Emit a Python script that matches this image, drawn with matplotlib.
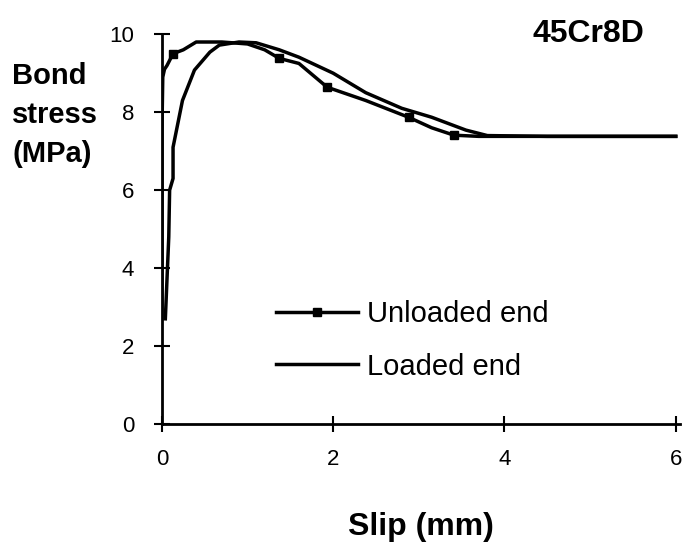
import matplotlib.pyplot as plt

plt.rcParams['font.family'] = ['Liberation Sans', 'DejaVu Sans']

# unloaded end (with square markers)
unl_x = [0.0, 0.0, 0.01, 0.03, 0.06, 0.13, 0.25, 0.4, 0.7, 1.0, 1.2, 1.37, 1.6, 1.93, 2.38, 2.88, 3.15, 3.41, 3.7, 4.2, 5.0, 6.0]
unl_y = [2.7, 7.5, 8.9, 9.1, 9.2, 9.5, 9.6, 9.8, 9.8, 9.75, 9.6, 9.38, 9.25, 8.64, 8.3, 7.87, 7.6, 7.41, 7.38, 7.38, 7.38, 7.38]
unl_marks = [5, 11, 13, 15, 17]

# loaded end
lod_x = [0.04, 0.08, 0.09, 0.13, 0.13, 0.24, 0.38, 0.56, 0.67, 0.9, 1.1, 1.37, 1.6, 2.0, 2.38, 2.8, 3.15, 3.55, 3.8, 4.5, 6.0]
lod_y = [2.7, 4.8, 6.0, 6.3, 7.1, 8.3, 9.08, 9.54, 9.72, 9.8, 9.78, 9.6, 9.41, 9.0, 8.5, 8.1, 7.87, 7.54, 7.4, 7.38, 7.38]

fig = plt.figure(figsize=(6.89, 5.43), dpi=100)
ax = fig.add_axes([0.235, 0.219, 0.752, 0.718])

ax.plot(unl_x, unl_y, color='black', lw=2.5, marker='s', ms=6, markevery=unl_marks,
        label='Unloaded end')
ax.plot(lod_x, lod_y, color='black', lw=2.5, label='Loaded end')

ax.set_xlim(0, 6.05)
ax.set_ylim(0, 10)
ax.set_xticks([0, 2, 4, 6])
ax.set_yticks([0, 2, 4, 6, 8, 10])
ax.spines['top'].set_visible(False)
ax.spines['right'].set_visible(False)
ax.spines['left'].set_linewidth(2)
ax.spines['bottom'].set_linewidth(2)
ax.tick_params(direction='inout', length=12, width=1.5, labelsize=16)
ax.tick_params(axis='x', pad=12)
ax.tick_params(axis='y', pad=14)

ax.set_xlabel('Slip (mm)', fontsize=23, fontweight='bold', labelpad=30)
fig.text(0.018, 0.885, 'Bond\nstress\n(MPa)', fontsize=21, fontweight='bold',
         va='top', ha='left', linespacing=1.5)
ax.text(5.63, 10.0, '45Cr8D', fontsize=23, fontweight='bold', ha='right', va='center')

ax.legend(loc='center left', bbox_to_anchor=(0.17, 0.215), frameon=False, fontsize=21,
          handlelength=2.8, handletextpad=0.3, labelspacing=0.85)

fig.savefig('out.png', dpi=100)
